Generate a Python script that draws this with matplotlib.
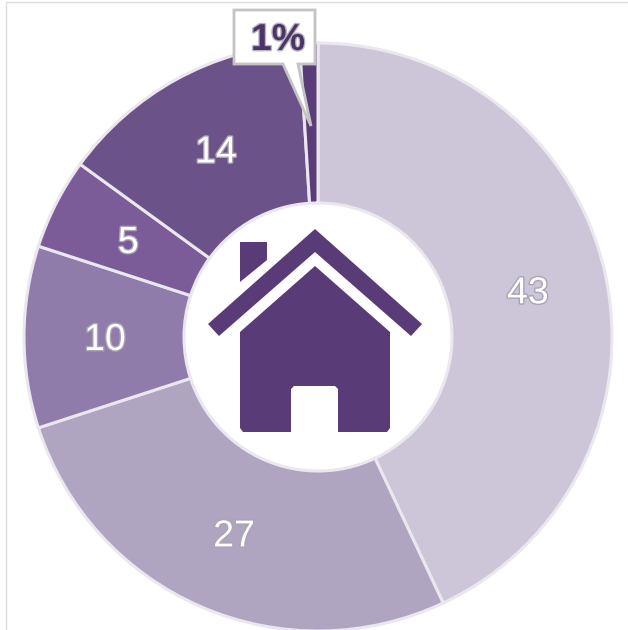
import matplotlib
matplotlib.use('Agg')
import matplotlib.pyplot as plt
import matplotlib.patheffects as pe
from matplotlib.patches import Polygon, Rectangle

plt.rcParams['font.family'] = ['Liberation Sans', 'DejaVu Sans']

# share of each slice, clockwise from the top
values = [43, 27, 10, 5, 14, 1]
colors = ['#CDC6D9', '#B0A5C1', '#8F7CAB', '#7B5C98', '#6B5289', '#5A3D78']
callout_label = '1%'

W, H = 628, 630
HOUSE = '#583B77'


def flip(pts):
    # points read in image pixels, y goes down
    return [(x, H - y) for x, y in pts]


fig = plt.figure(figsize=(W / 100, H / 100), dpi=100)
ax = fig.add_axes([0, 0, 1, 1])
ax.set_xlim(0, W)
ax.set_ylim(0, H)
ax.axis('off')

# faint frame, only left and top show
ax.add_patch(Rectangle((6, -5), W + 10, H - 2 + 5, fc='white', ec='#DEDEDE', lw=1))


def small_pct(p):
    return '' if p < 2 else f'{p:.0f}'


wedges, _, autotexts = ax.pie(
    values, colors=colors, startangle=90, counterclock=False,
    center=(318, H - 337), radius=294, frame=True,
    wedgeprops=dict(width=160, edgecolor='#EAE7EF', linewidth=2.2),
    autopct=small_pct, pctdistance=0.728,
)
ax.set_xlim(0, W)
ax.set_ylim(0, H)
ax.set_aspect('equal')
ax.axis('off')

for t in autotexts:
    t.set_color('white')
    t.set_fontsize(27)
    x, y = t.get_position()
    t.set_position((x + 1, y - 3))
    t.set_path_effects([pe.withStroke(linewidth=2, foreground='#A9A3B3')])

# house icon in the hole
roof = [(315, 229), (422, 324), (411, 336), (315, 252), (219, 336), (208, 324)]
chimney = [(240, 242), (267, 242), (267, 260), (240, 282)]
body = [(315, 266), (390, 332), (390, 428), (387, 432), (338, 432), (338, 389),
        (335, 386), (294, 386), (291, 389), (291, 432), (243, 432), (240, 428), (240, 332)]
for shape in (roof, chimney, body):
    ax.add_patch(Polygon(flip(shape), closed=True, fc=HOUSE, ec='none', zorder=5))

# callout for the small slice
callout = [(234, 10), (315, 10), (315, 64), (298, 64), (311, 126), (283, 64), (234, 64)]
ax.add_patch(Polygon(flip(callout), closed=True, fc='white', ec='#C4C4C4', lw=2, zorder=6))
ax.text(278, H - 40, callout_label, fontsize=27, fontweight='bold', color='#4A3566',
        ha='center', va='center', zorder=7,
        path_effects=[pe.withStroke(linewidth=2, foreground='#B9B4C2')])

fig.savefig('out.png', dpi=100)
